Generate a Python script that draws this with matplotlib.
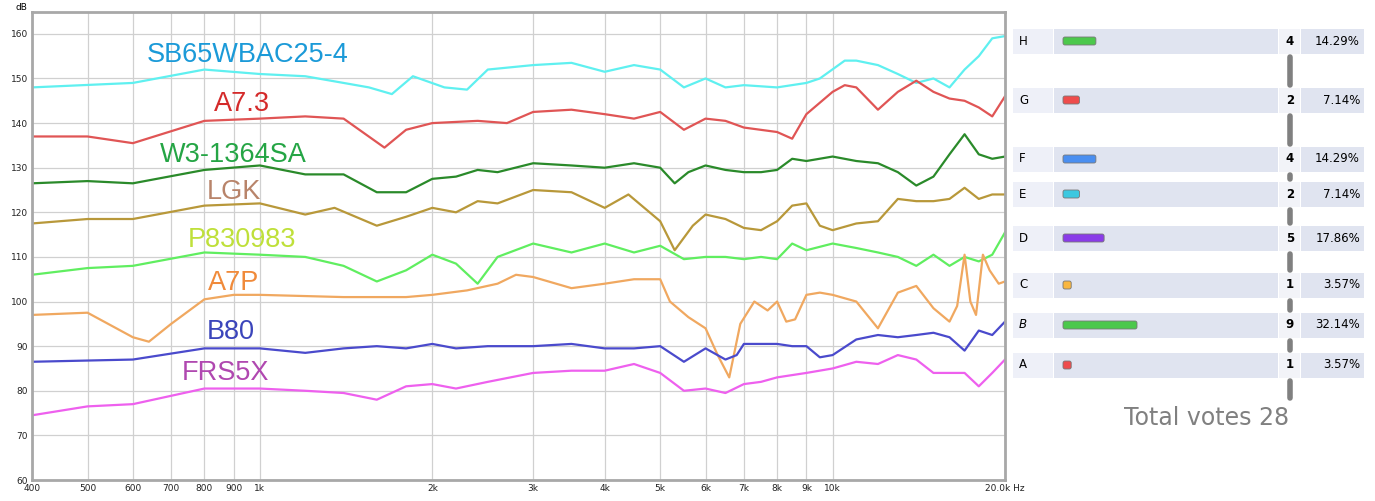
import matplotlib
matplotlib.use("Agg")
import matplotlib.pyplot as plt
from matplotlib.patches import FancyBboxPatch, Rectangle
from matplotlib.ticker import FixedLocator, NullLocator

# ---------------- data ----------------
sb_f = [400,600,800,1000,1200,1400,1550,1700,1850,2100,2300,2500,3000,3500,4000,4500,5000,5500,6000,6500,7000,8000,9000,9500,10500,11000,12000,13000,14000,15000,16000,17000,18000,19000,20000]
sb_v = [148,149,152,151,150.5,149,148,146.5,150.5,148,147.5,152,153,153.5,151.5,153,152,148,150,148,148.5,148,149,150,154,154,153,151,149,150,148,152,155,159,159.5]

a73_f = [400,500,600,800,1000,1200,1400,1650,1800,2000,2400,2700,3000,3500,4000,4500,5000,5500,6000,6500,7000,8000,8500,9000,10000,10500,11000,12000,13000,14000,15000,16000,17000,18000,19000,20000]
a73_v = [137,137,135.5,140.5,141,141.5,141,134.5,138.5,140,140.5,140,142.5,143,142,141,142.5,138.5,141,140.5,139,138,136.5,142,147,148.5,148,143,147,149.5,147,145.5,145,143.5,141.5,146]

w3_f = [400,500,600,800,1000,1200,1400,1600,1800,2000,2200,2400,2600,3000,3500,4000,4500,5000,5300,5600,6000,6500,7000,7500,8000,8500,9000,10000,11000,12000,13000,14000,15000,16000,17000,18000,19000,20000]
w3_v = [126.5,127,126.5,129.5,130.5,128.5,128.5,124.5,124.5,127.5,128,129.5,129,131,130.5,130,131,130,126.5,129,130.5,129.5,129,129,129.5,132,131.5,132.5,131.5,131,129,126,128,133,137.5,133,132,132.5]

lgk_f = [400,500,600,800,1000,1200,1350,1600,1800,2000,2200,2400,2600,3000,3500,4000,4400,5000,5300,5700,6000,6500,7000,7500,8000,8500,9000,9500,10000,11000,12000,13000,14000,15000,16000,17000,18000,19000,20000]
lgk_v = [117.5,118.5,118.5,121.5,122,119.5,121,117,119,121,120,122.5,122,125,124.5,121,124,118,111.5,117,119.5,118.5,116.5,116,118,121.5,122,117,116,117.5,118,123,122.5,122.5,123,125.5,123,124,124]

p8_f = [400,500,600,800,1000,1200,1400,1600,1800,2000,2200,2400,2600,3000,3500,4000,4500,5000,5500,6000,6500,7000,7500,8000,8500,9000,10000,11000,12000,13000,14000,15000,16000,17000,18000,19000,20000]
p8_v = [106,107.5,108,111,110.5,110,108,104.5,107,110.5,108.5,104,110,113,111,113,111,112.5,109.5,110,110,109.5,110,109.5,113,111.5,113,112,111,110,108,110.5,108,110,109,110.5,115.5]

a7p_f = [400,500,600,640,700,800,900,1000,1400,1800,2000,2300,2600,2800,3000,3500,4000,4500,5000,5200,5600,6000,6300,6600,6900,7300,7700,8000,8300,8600,9000,9500,10000,11000,12000,13000,14000,15000,16000,16500,17000,17400,17800,18300,18800,19500,20000]
a7p_v = [97,97.5,92,91,95,100.5,101.5,101.5,101,101,101.5,102.5,104,106,105.5,103,104,105,105,100,96.5,94,88,83,95,100,98,100,95.5,96,101.5,102,101.5,100,94,102,103.5,98.5,95.5,99,110.5,100,97,110.5,107,104,104.5]

b80_f = [400,600,800,1000,1200,1400,1600,1800,2000,2200,2500,3000,3500,4000,4500,5000,5500,6000,6500,6800,7000,8000,8500,9000,9500,10000,11000,12000,13000,14000,15000,16000,17000,18000,19000,20000]
b80_v = [86.5,87,89.5,89.5,88.5,89.5,90,89.5,90.5,89.5,90,90,90.5,89.5,89.5,90,86.5,89.5,87,88,90.5,90.5,90,90,87.5,88,91.5,92.5,92,92.5,93,92,89,93.5,92.5,95.5]

frs_f = [400,500,600,800,1000,1200,1400,1600,1800,2000,2200,2500,3000,3500,4000,4500,5000,5500,6000,6500,7000,7500,8000,9000,10000,11000,12000,13000,14000,15000,16000,17000,18000,19000,20000]
frs_v = [74.5,76.5,77,80.5,80.5,80,79.5,78,81,81.5,80.5,82,84,84.5,84.5,86,84,80,80.5,79.5,81.5,82,83,84,85,86.5,86,88,87,84,84,84,81,84,87]

series_names = ["SB65WBAC25-4", "A7.3", "W3-1364SA", "LGK", "P830983", "A7P", "B80", "FRS5X"]
series_f = [sb_f, a73_f, w3_f, lgk_f, p8_f, a7p_f, b80_f, frs_f]
series_v = [sb_v, a73_v, w3_v, lgk_v, p8_v, a7p_v, b80_v, frs_v]
label_pos_f = [950, 930, 900, 900, 930, 900, 890, 870]
label_pos_v = [155.3, 144.3, 132.9, 124.6, 113.8, 104.2, 93.2, 84.0]

xtick_vals = [400,500,600,700,800,900,1000,2000,3000,4000,5000,6000,7000,8000,9000,10000,20000]
xtick_labels = ["400","500","600","700","800","900","1k","2k","3k","4k","5k","6k","7k","8k","9k","10k","20.0k Hz"]
ytick_vals = [60,70,80,90,100,110,120,130,140,150,160]

poll_labels = ["H", "G", "F", "E", "D", "C", "B", "A"]
poll_votes = [4, 2, 4, 2, 5, 1, 9, 1]
poll_pcts = ["14.29%", "7.14%", "14.29%", "7.14%", "17.86%", "3.57%", "32.14%", "3.57%"]
total_votes = 28

# ---------------- style ----------------
line_colors = ["#5ff0f0", "#e05555", "#2a8a2a", "#b8983a", "#60ee60", "#f0a860", "#4a4acc", "#ee60ee"]
label_colors = ["#1b9ad8", "#d42a2a", "#25a545", "#b8846a", "#bfe03a", "#f08a3a", "#3b45bb", "#b048b0"]
bar_colors = ["#4cc84c", "#ee4c4c", "#4a8ef0", "#3cc8e0", "#8a3ce8", "#f8b640", "#4cc84c", "#ee4c4c"]
row_y = [41, 100, 159, 194, 238, 285, 325, 365]

W, H = 1375, 501
fig = plt.figure(figsize=(W/100, H/100), dpi=100)

bg = fig.add_axes([0, 0, 1, 1])
bg.set_xlim(0, W); bg.set_ylim(H, 0); bg.axis("off")

ax = fig.add_axes([32/W, 1-480/H, (1005-32)/W, (480-12)/H])
ax.set_xscale("log")
ax.set_xlim(400, 20000)
ax.set_ylim(60, 164.9)
for f, v, c in zip(series_f, series_v, line_colors):
    ax.plot(f, v, color=c, lw=1.6, solid_joinstyle="round")
for n, fx, vy, c in zip(series_names, label_pos_f, label_pos_v, label_colors):
    ax.text(fx, vy, n, color=c, fontsize=19.5, ha="center", va="center", family="Liberation Sans")
ax.xaxis.set_major_locator(FixedLocator(xtick_vals))
ax.xaxis.set_minor_locator(NullLocator())
ax.set_xticklabels(xtick_labels, fontsize=6.5, color="#222222")
ax.set_yticks(ytick_vals)
ax.set_yticklabels([str(v) for v in ytick_vals], fontsize=6.5, color="#222222")
ax.tick_params(length=0, pad=3)
ax.grid(True, color="#d0d0d0", lw=0.9)
for s in ax.spines.values():
    s.set_color("#a8a8a8"); s.set_linewidth(2)
ax.text(-0.005, 1.0, "dB", transform=ax.transAxes, fontsize=6.5, ha="right", va="bottom")
ax.set_axisbelow(True)

# ---------------- poll ----------------
vote_px = 74 / max(poll_votes)
rh = 25
for lab, n, pct, c, y in zip(poll_labels, poll_votes, poll_pcts, bar_colors, row_y):
    top = y - rh/2
    bg.add_patch(Rectangle((1013, top), 40, rh, color="#eef0f8", lw=0))
    bg.add_patch(Rectangle((1054, top), 224, rh, color="#e0e4f0", lw=0))
    bg.add_patch(Rectangle((1279, top), 21, rh, color="#f2f3f8", lw=0))
    bg.add_patch(Rectangle((1301, top), 63, rh, color="#e0e4f0", lw=0))
    bg.add_patch(FancyBboxPatch((1063, y-4), n*vote_px, 8, boxstyle="round,pad=0,rounding_size=2",
                                fc=c, ec="#777777", lw=0.6))
    bg.text(1019, y, lab, fontsize=8.5, va="center", ha="left", family="DejaVu Sans",
            style="italic" if lab == "B" else "normal")
    bg.text(1290, y, str(n), fontsize=8.5, va="center", ha="center", weight="bold")
    bg.text(1360, y, pct, fontsize=8.5, va="center", ha="right")
for y0, y1 in zip(row_y[:-1], row_y[1:]):
    a, b = y0 + rh/2 + 3, y1 - rh/2 - 3
    if b > a:
        bg.plot([1290, 1290], [a, b], color="#808080", lw=4, solid_capstyle="round")
bg.plot([1290, 1290], [row_y[-1]+rh/2+3, 398], color="#808080", lw=4, solid_capstyle="round")
bg.text(1207, 418, f"Total votes {total_votes}", fontsize=17, color="#808080", ha="center", va="center",
        family="DejaVu Sans")

fig.savefig("out.png", dpi=100)
